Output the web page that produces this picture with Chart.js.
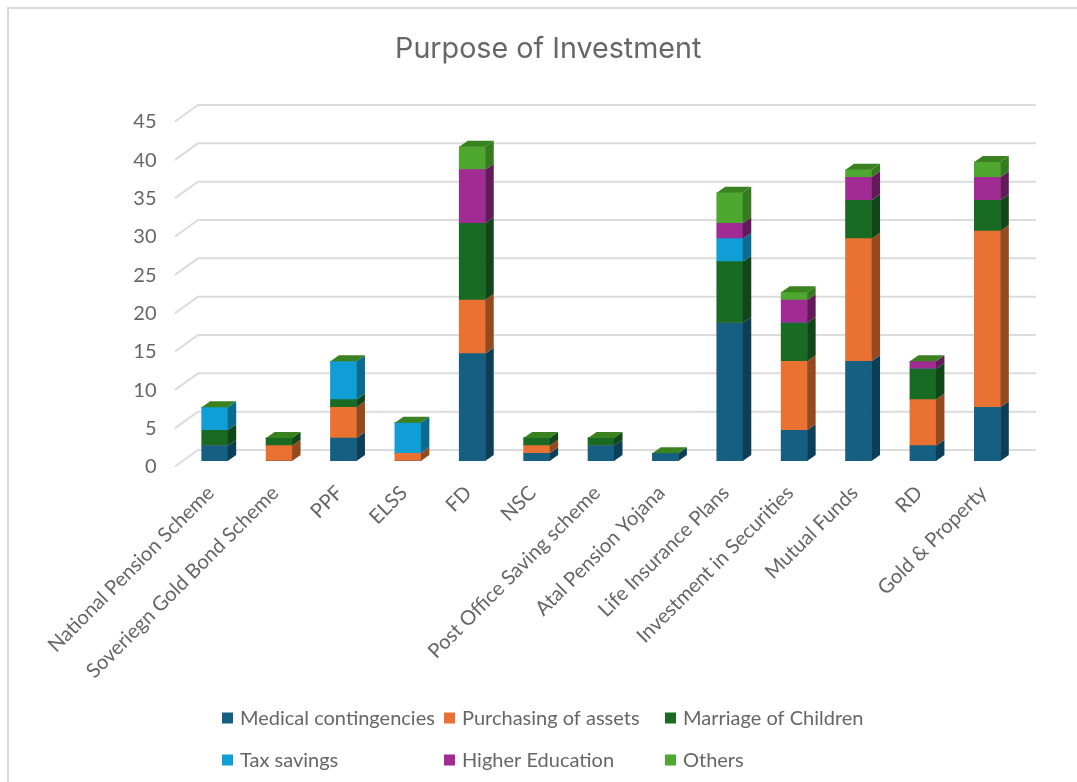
<!DOCTYPE html>
<html>
<head>
<meta charset="utf-8">
<title>Purpose of Investment</title>
<script src="https://cdn.jsdelivr.net/npm/chart.js@4"></script>
<style>
    html, body { margin: 0; background: #fff; overflow: hidden; width: 1077px; height: 782px; }
    #frame { position: absolute; left: 7px; top: 7px; width: 1082px; height: 775px; background: #fff;
             border-left: 2px solid #d9d9d9; border-top: 2px solid #d9d9d9; box-sizing: border-box; }
    #myChart { position: absolute; left: 8px; top: 8px; }
</style>
</head>
<body>
<div id="frame"></div>
<canvas id="myChart" width="1080" height="774"></canvas>
<script>
const categories = ['National Pension Scheme', 'Soveriegn Gold Bond Scheme', 'PPF', 'ELSS', 'FD', 'NSC',
    'Post Office Saving scheme', 'Atal Pension Yojana', 'Life Insurance Plans', 'Investment in Securities',
    'Mutual Funds', 'RD', 'Gold & Property'];

const medical    = [2, 0, 3, 0, 14, 1, 2, 1, 18, 4, 13, 2, 7];
const purchasing = [0, 2, 4, 1, 7, 1, 0, 0, 0, 9, 16, 6, 23];
const marriage   = [2, 1, 1, 0, 10, 1, 1, 0, 8, 5, 5, 4, 4];
const tax        = [3, 0, 5, 4, 0, 0, 0, 0, 3, 0, 0, 0, 0];
const higherEdu  = [0, 0, 0, 0, 7, 0, 0, 0, 2, 3, 3, 1, 3];
const others     = [0, 0, 0, 0, 3, 0, 0, 0, 4, 1, 1, 0, 2];

const TEXT_COLOR = '#666666';
const LABEL_FONT = 'Lato';

// Depth of the bars and of the floor, in pixels
const BAR_DX = 8.5, BAR_DY = 6;
const WALL_X = 190, WALL_RIGHT = 1028, FLOOR_X = 167;
const TOP_FACE = '#3a8220';

function makeSeries(label, data, color, side) {
    return { label, data, backgroundColor: color, sideColor: side, borderWidth: 0, barThickness: 26 };
}

function fillPoly(ctx, color, pts) {
    ctx.fillStyle = color;
    ctx.beginPath();
    pts.forEach((p, i) => i ? ctx.lineTo(p[0], p[1]) : ctx.moveTo(p[0], p[1]));
    ctx.closePath();
    ctx.fill();
}

// Back wall and floor gridlines, taken from the y scale ticks
const wallPlugin = {
    id: 'wall',
    beforeDatasetsDraw(chart) {
        const ctx = chart.ctx, y = chart.scales.y;
        ctx.save();
        ctx.strokeStyle = '#dcdcdc';
        ctx.lineWidth = 2;
        y.ticks.forEach(t => {
            const p = y.getPixelForValue(t.value);
            ctx.beginPath();
            ctx.moveTo(FLOOR_X, p + 5.5);
            ctx.lineTo(WALL_X, p - 11);
            ctx.lineTo(WALL_RIGHT, p - 11);
            ctx.stroke();
        });
        ctx.restore();
    }
};

// Side and top faces of each stack, drawn from the bar elements
const depthPlugin = {
    id: 'depth',
    afterDatasetsDraw(chart) {
        const ctx = chart.ctx;
        ctx.save();
        chart.data.datasets.forEach((ds, i) => {
            chart.getDatasetMeta(i).data.forEach((bar, j) => {
                if (!ds.data[j]) return;
                const r = bar.x + bar.width / 2;
                fillPoly(ctx, ds.sideColor, [[r, bar.y], [r + BAR_DX, bar.y - BAR_DY],
                    [r + BAR_DX, bar.base - BAR_DY], [r, bar.base]]);
            });
        });
        const lastMeta = chart.getDatasetMeta(chart.data.datasets.length - 1);
        lastMeta.data.forEach(bar => {
            const l = bar.x - bar.width / 2, r = bar.x + bar.width / 2;
            fillPoly(ctx, TOP_FACE, [[l, bar.y], [l + BAR_DX, bar.y - BAR_DY],
                [r + BAR_DX, bar.y - BAR_DY], [r, bar.y]]);
        });
        ctx.restore();
    }
};

// Legend in three fixed columns
const legendColumns = [214, 436, 657];
const legendRows = [710, 752];
const columnLegendPlugin = {
    id: 'columnLegend',
    afterDraw(chart) {
        const ctx = chart.ctx;
        ctx.save();
        ctx.font = '20px ' + LABEL_FONT;
        ctx.textBaseline = 'middle';
        chart.data.datasets.forEach((ds, i) => {
            const x = legendColumns[i % 3], y = legendRows[Math.floor(i / 3)];
            ctx.fillStyle = ds.backgroundColor;
            ctx.fillRect(x, y - 5.5, 11, 11);
            ctx.fillStyle = TEXT_COLOR;
            ctx.fillText(ds.label, x + 18, y + 0.5);
        });
        ctx.restore();
    }
};

new Chart(document.getElementById('myChart').getContext('2d'), {
    type: 'bar',
    data: {
        labels: categories,
        datasets: [
            makeSeries('Medical contingencies', medical, '#156082', '#0c3f55'),
            makeSeries('Purchasing of assets', purchasing, '#E97132', '#96491f'),
            makeSeries('Marriage of Children', marriage, '#196B24', '#114718'),
            makeSeries('Tax savings', tax, '#0F9ED5', '#0a6a8f'),
            makeSeries('Higher Education', higherEdu, '#A02B93', '#621a5a'),
            makeSeries('Others', others, '#4EA72E', '#347a1f')
        ]
    },
    plugins: [wallPlugin, depthPlugin, columnLegendPlugin],
    options: {
        responsive: false,
        animation: false,
        layout: { padding: { top: 0, right: 68.5, bottom: 0, left: 69 } },
        plugins: {
            legend: { display: false },
            tooltip: { enabled: false },
            title: {
                display: true,
                text: 'Purpose of Investment',
                color: TEXT_COLOR,
                font: { family: 'Inter', size: 28.7, weight: 'normal', lineHeight: 1.2 },
                padding: { top: 24, bottom: 49.56 }
            }
        },
        scales: {
            x: {
                stacked: true,
                grid: { display: false, drawTicks: false },
                border: { display: false },
                ticks: {
                    autoSkip: false, minRotation: 45, maxRotation: 45, padding: 20, labelOffset: -4,
                    color: TEXT_COLOR, font: { family: LABEL_FONT, size: 20.2 }
                },
                afterFit(scale) { scale.height = 321; }
            },
            y: {
                stacked: true,
                min: 0,
                max: 45,
                grid: { display: false, drawTicks: false },
                border: { display: false },
                ticks: {
                    stepSize: 5, padding: 26, labelOffset: 6,
                    color: TEXT_COLOR, font: { family: LABEL_FONT, size: 20 }
                },
                afterFit(scale) { scale.width = 105.5; }
            }
        }
    }
});
</script>
</body>
</html>
